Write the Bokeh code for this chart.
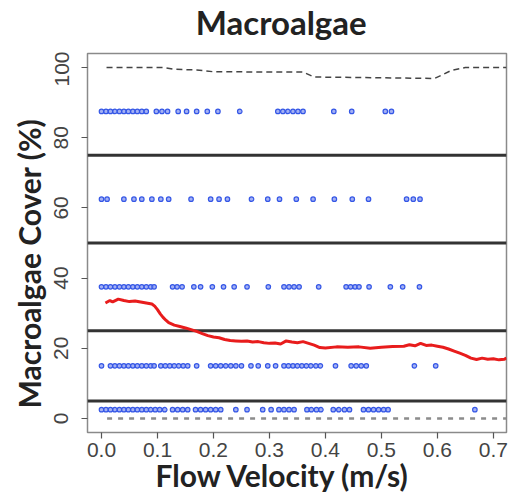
from bokeh.plotting import figure
from bokeh.models import Span, Title, Range1d, FixedTicker
from bokeh.layouts import column
from bokeh.core.properties import value
from bokeh.embed import file_html
from bokeh.resources import INLINE

# ---- data ----
title_text = "Macroalgae"
x_label = "Flow Velocity (m/s)"
y_label = "Macroalgae Cover (%)"

x_ticks = [0.0, 0.1, 0.2, 0.3, 0.4, 0.5, 0.6, 0.7]
y_ticks = [0, 20, 40, 60, 80, 100]

class_bounds = [75, 50, 25, 5]

level_875 = 87.5
x_875 = [0.0, 0.008, 0.016, 0.024, 0.032, 0.040, 0.048, 0.056, 0.064, 0.072, 0.080,
         0.098, 0.108, 0.118, 0.137, 0.152, 0.170, 0.189, 0.208, 0.247,
         0.315, 0.324, 0.333, 0.342, 0.351, 0.360, 0.415, 0.447, 0.507, 0.518]

level_625 = 62.5
x_625 = [0.0, 0.01, 0.04, 0.058, 0.072, 0.09, 0.106, 0.12, 0.16, 0.195, 0.21, 0.225,
         0.268, 0.297, 0.318, 0.348, 0.378, 0.416, 0.448, 0.477, 0.545, 0.557, 0.569]

level_375 = 37.5
x_375 = [0.0, 0.008, 0.016, 0.024, 0.032, 0.040, 0.048, 0.056, 0.064, 0.072, 0.080, 0.088, 0.094,
         0.127, 0.135, 0.144, 0.165, 0.177, 0.198, 0.218, 0.237, 0.26, 0.298,
         0.326, 0.335, 0.344, 0.353, 0.388, 0.437, 0.445, 0.453, 0.46, 0.478,
         0.516, 0.538, 0.568]

level_15 = 15
x_15 = [0.0, 0.016, 0.024, 0.032, 0.040, 0.048, 0.056, 0.064, 0.072, 0.080, 0.088, 0.094,
        0.106, 0.114, 0.122, 0.130, 0.138, 0.146, 0.154, 0.17,
        0.195, 0.204, 0.213, 0.222, 0.231, 0.240, 0.250, 0.267, 0.280, 0.297, 0.311,
        0.326, 0.334, 0.342, 0.350, 0.358, 0.366, 0.374, 0.383, 0.391, 0.418,
        0.446, 0.455, 0.464, 0.473, 0.559, 0.597]

level_25 = 2.5
x_25 = [0.0, 0.008, 0.016, 0.024, 0.032, 0.040, 0.048, 0.056, 0.064, 0.072, 0.080, 0.088,
        0.096, 0.104, 0.113, 0.127, 0.136, 0.145, 0.154, 0.168, 0.177, 0.186, 0.195,
        0.204, 0.213, 0.24, 0.26, 0.288, 0.303, 0.317, 0.326, 0.335, 0.344,
        0.367, 0.375, 0.384, 0.392, 0.414, 0.424, 0.434, 0.443,
        0.468, 0.477, 0.486, 0.495, 0.504, 0.512, 0.667]

mean_x = [0.007, 0.015, 0.02, 0.03, 0.04, 0.05, 0.06, 0.07, 0.08, 0.09,
          0.095, 0.1, 0.105, 0.11, 0.115, 0.12, 0.13, 0.14, 0.15, 0.16,
          0.17, 0.18, 0.19, 0.2, 0.21, 0.22, 0.23, 0.24, 0.25, 0.26,
          0.27, 0.28, 0.29, 0.3, 0.31, 0.32, 0.33, 0.34, 0.35, 0.36,
          0.37, 0.38, 0.39, 0.40, 0.42, 0.44, 0.46, 0.48, 0.50, 0.52,
          0.54, 0.55, 0.56, 0.57, 0.58, 0.59, 0.60, 0.61, 0.62, 0.63,
          0.64, 0.65, 0.66, 0.67, 0.68, 0.69, 0.70, 0.71, 0.72, 0.7235]
mean_y = [32.9, 33.6, 33.2, 34.0, 33.6, 33.3, 33.5, 33.2, 32.9, 32.6,
          32.0, 31.0, 29.8, 28.8, 28.0, 27.3, 26.6, 26.2, 25.8, 25.3,
          24.8, 24.2, 23.6, 23.2, 23.0, 22.5, 22.2, 22.1, 22.0, 22.1,
          21.8, 21.9, 21.6, 21.4, 21.5, 21.2, 22.1, 21.8, 21.6, 21.9,
          21.4, 20.9, 20.2, 20.1, 20.4, 20.3, 20.4, 20.0, 20.3, 20.5,
          20.6, 21.0, 20.7, 21.4, 20.8, 20.9, 20.6, 20.3, 19.8, 19.2,
          18.6, 18.0, 17.2, 16.8, 17.2, 16.9, 17.0, 16.7, 16.9, 17.2]

upper_x = [0.009, 0.11, 0.13, 0.17, 0.2, 0.36, 0.38, 0.595, 0.61, 0.625, 0.65, 0.7235]
upper_y = [100, 100, 99.5, 99.3, 98.8, 98.7, 97.3, 96.9, 98.0, 99.2, 100, 100]

lower_x = [0.01, 0.7235]
lower_y = [0, 0]

X_MIN, X_MAX = -0.025, 0.7235

# ---- title strip (its frame is aligned with the main plot's frame in the column) ----
tfig = figure(width=508, height=51, output_backend="svg", toolbar_location=None,
              x_range=Range1d(X_MIN, X_MAX), y_range=Range1d(0, 51),
              x_axis_type=None, y_axis_type=None, min_border=0, title=None)
tfig.outline_line_color = None
tfig.grid.visible = False
tfig.border_fill_color = "white"
tfig.background_fill_color = "white"
tfig.text(x=[0.321], y=[30], text=[title_text], text_font=value("Lato"),
          text_font_style="bold", text_font_size="33px", text_color="#222222",
          text_align="center", text_baseline="middle")

# ---- main figure ----
p = figure(width=508, height=444, output_backend="svg", toolbar_location=None,
           x_range=Range1d(X_MIN, X_MAX), y_range=Range1d(-4, 104), title=None,
           min_border_left=87, min_border_right=2, min_border_top=2, min_border_bottom=63)
p.background_fill_color = "white"
p.border_fill_color = "white"
p.outline_line_color = "#8a8a8a"
p.outline_line_width = 1.5
p.grid.visible = False

for ax in (p.xaxis[0], p.yaxis[0]):
    ax.axis_line_color = None
    ax.major_tick_line_color = "#555555"
    ax.major_tick_line_width = 1.2
    ax.major_tick_out = 6
    ax.major_tick_in = 0
    ax.minor_tick_line_color = None
    ax.major_label_text_font = "Liberation Sans"
    ax.major_label_text_font_size = "21px"
    ax.major_label_text_color = "#444444"

p.xaxis.ticker = FixedTicker(ticks=x_ticks)
p.yaxis.ticker = FixedTicker(ticks=y_ticks)
p.xaxis.major_label_overrides = {t: f"{t:.1f}" for t in x_ticks}
p.yaxis.major_label_orientation = "vertical"
p.xaxis.major_label_standoff = 4
p.yaxis.major_label_standoff = 13

p.add_layout(Title(text=x_label, align="left", offset=68, standoff=-7,
                   vertical_align="middle", text_font="Lato",
                   text_font_style="bold", text_font_size="30px", text_color="#222222"), "below")
p.add_layout(Title(text=y_label, align="left", offset=24, standoff=10, text_font="Lato",
                   text_font_style="bold", text_font_size="30px", text_color="#222222"), "left")

for b in class_bounds:
    p.add_layout(Span(location=b, dimension="width", line_color="#333333",
                      line_width=3, level="underlay"))

p.line(upper_x, upper_y, line_color="#444444", line_width=1.5, line_dash="6 4")
p.line(lower_x, lower_y, line_color="#8c8c8c", line_width=2.5, line_dash="5 6")

for lv, xs in ((level_875, x_875), (level_625, x_625), (level_375, x_375),
               (level_15, x_15), (level_25, x_25)):
    p.scatter(xs, [lv] * len(xs), marker="circle", size=4.5,
              line_color="#3557e6", line_width=1.2, fill_color="#7d90ef", fill_alpha=0.7)

p.line(mean_x, mean_y, line_color="#e81c1c", line_width=3)

layout = column(tfig, p, spacing=0)
open("out.html", "w").write(file_html(layout, INLINE))
